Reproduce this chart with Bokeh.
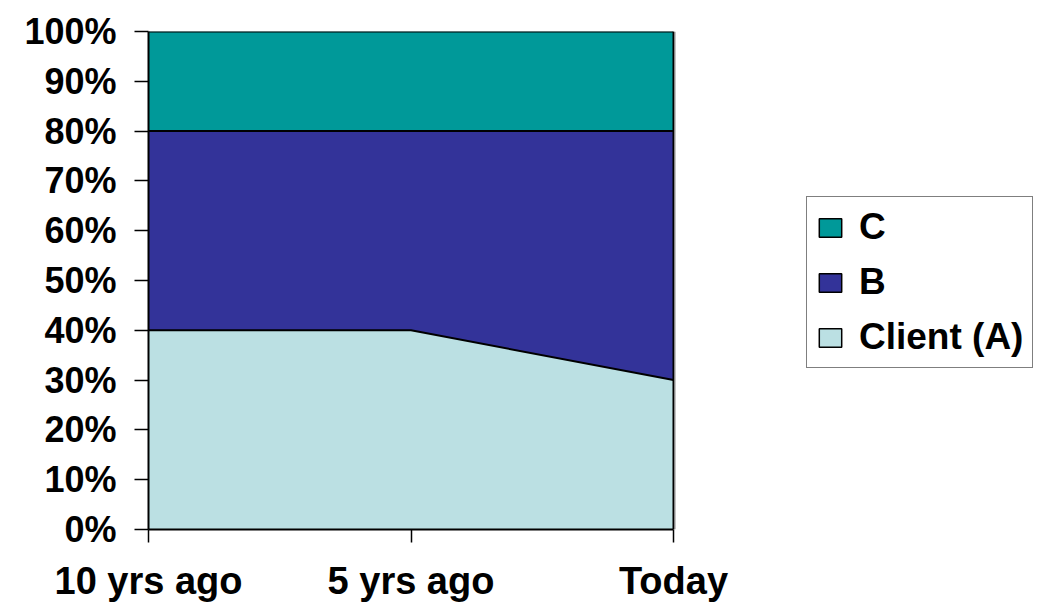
from bokeh.plotting import figure
from bokeh.models import (ColumnDataSource, FixedTicker, PrintfTickFormatter, Legend,
                          LegendItem, Range1d, Span)
from bokeh.embed import file_html
from bokeh.resources import INLINE

# ---- data ----
periods = ["10 yrs ago", "5 yrs ago", "Today"]
client_a = [40, 40, 30]
b_share = [40, 40, 50]
c_share = [20, 20, 20]
y_ticks = [0, 10, 20, 30, 40, 50, 60, 70, 80, 90, 100]

colors = {"Client (A)": "#BBE0E3", "B": "#333399", "C": "#009999"}
FONT = "Liberation Sans"

xs = list(range(len(periods)))
source = ColumnDataSource(dict(x=xs, a=client_a, b=b_share, c=c_share))

W, H = 1050, 605
FL, FR, FT, FB = 148, 673, 31, 529          # plot-area edges in pixels
px_per_unit = (FR - FL) / (len(periods) - 1)
x_end = (W - FL) / px_per_unit               # extend the frame so the legend fits on the right

p = figure(width=W, height=H, output_backend="svg", toolbar_location=None,
           x_range=Range1d(0, x_end), y_range=Range1d(0, 100),
           min_border_left=FL, min_border_right=0, min_border_top=FT,
           min_border_bottom=H - FB)

p.varea_stack(["a", "b", "c"], x="x", source=source,
              color=[colors["Client (A)"], colors["B"], colors["C"]])
p.vline_stack(["a", "b", "c"], x="x", source=source, line_color="black", line_width=2)
p.add_layout(Span(location=xs[-1], dimension="height", line_color="black", line_width=2))
p.add_layout(Span(location=xs[-1] + 1.5 / px_per_unit, dimension="height",
                  line_color="#8c8c8c", line_width=1))

# legend proxies (hidden quads with black borders, drawn only in the legend)
proxies = {}
for name, vals in [("C", c_share), ("B", b_share), ("Client (A)", client_a)]:
    r = p.quad(left=xs, right=xs, top=vals, bottom=vals,
               fill_color=colors[name], line_color="black", line_width=1.5)
    r.visible = False
    proxies[name] = r

legend = Legend(items=[LegendItem(label=n, renderers=[proxies[n]]) for n in ["C", "B", "Client (A)"]],
                location=(806 - FL, FB - 368))
legend.click_policy = "none"
legend.glyph_width = 28
legend.glyph_height = 23
legend.label_standoff = 15
legend.padding = 9
legend.spacing = 13
legend.margin = 0
legend.label_text_font = FONT
legend.label_text_font_style = "bold"
legend.label_text_font_size = "37px"
legend.label_text_color = "black"
legend.border_line_color = "black"
legend.border_line_width = 1.5
legend.background_fill_color = "white"
legend.background_fill_alpha = 1
p.add_layout(legend, "center")

p.grid.visible = False
p.outline_line_color = None
p.background_fill_color = "white"
p.border_fill_color = "white"

# x axis
xa = p.xaxis[0]
xa.bounds = (xs[0], xs[-1])
xa.ticker = FixedTicker(ticks=xs)
xa.major_label_overrides = {i: lab for i, lab in enumerate(periods)}
xa.major_tick_out = 13
xa.major_tick_in = 0
xa.minor_tick_line_color = None
xa.axis_line_width = 2
xa.axis_line_color = "black"
xa.major_tick_line_color = "black"
xa.major_tick_line_width = 1.5
xa.major_label_text_font = FONT
xa.major_label_text_font_style = "bold"
xa.major_label_text_font_size = "38px"
xa.major_label_text_color = "black"
xa.major_label_standoff = 17

# y axis
ya = p.yaxis[0]
ya.ticker = FixedTicker(ticks=y_ticks)
ya.formatter = PrintfTickFormatter(format="%d%%")
ya.major_tick_out = 14
ya.major_tick_in = 0
ya.minor_tick_line_color = None
ya.axis_line_width = 2
ya.axis_line_color = "black"
ya.major_tick_line_color = "black"
ya.major_tick_line_width = 1.5
ya.major_label_text_font = FONT
ya.major_label_text_font_style = "bold"
ya.major_label_text_font_size = "36px"
ya.major_label_text_color = "black"
ya.major_label_standoff = 18

open("out.html", "w").write(file_html(p, INLINE))
